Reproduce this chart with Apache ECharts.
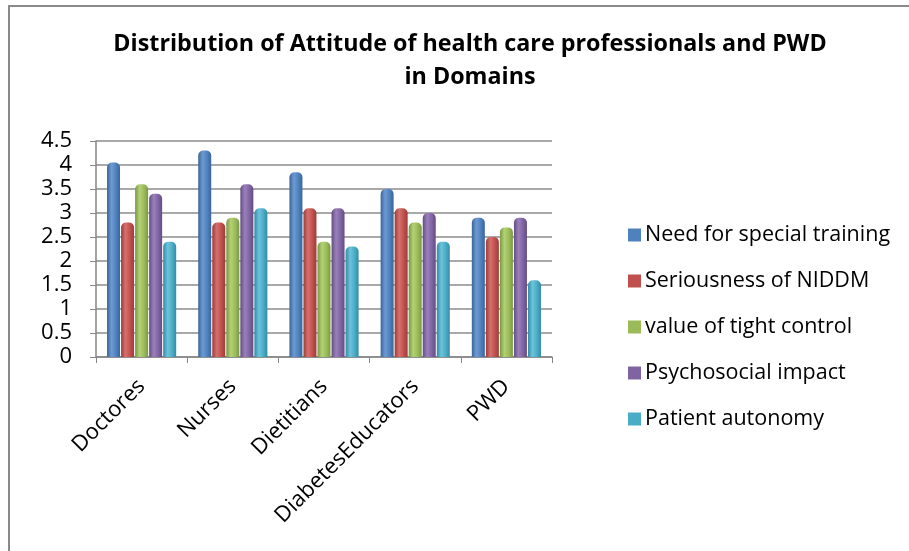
<!DOCTYPE html>
<html>
<head>
<meta charset="utf-8">
<script src="https://cdn.jsdelivr.net/npm/echarts@6/dist/echarts.min.js"></script>
<style>
  html, body { margin: 0; padding: 0; background: #fff; }
  #main { width: 909px; height: 551px; }
</style>
</head>
<body>
<div id="main"></div>
<script>
// data
const categories = ['Doctores', 'Nurses', 'Dietitians', 'DiabetesEducators', 'PWD']
const seriesNames = [
  'Need for special training',
  'Seriousness of NIDDM',
  'value of tight control',
  'Psychosocial impact',
  'Patient autonomy'
]
const needTraining = [4.05, 4.3, 3.85, 3.5, 2.9]
const seriousness = [2.8, 2.8, 3.1, 3.1, 2.5]
const tightControl = [3.6, 2.9, 2.4, 2.8, 2.7]
const psychosocial = [3.4, 3.6, 3.1, 3.0, 2.9]
const autonomy = [2.4, 3.1, 2.3, 2.4, 1.6]
const seriesData = [needTraining, seriousness, tightControl, psychosocial, autonomy]

const colors = ['#4F81BD', '#C0504D', '#9BBB59', '#8064A2', '#4BACC6']
const darks = ['#3A6597', '#9B3D3A', '#7A9844', '#634D82', '#338BA3']
const lights = ['#6D9AD3', '#D6706D', '#B3D175', '#9A80BB', '#6CC3DB']

// cylinder-ish look
const cyl = (i) => new echarts.graphic.LinearGradient(0, 0, 1, 0, [
  { offset: 0, color: darks[i] },
  { offset: 0.35, color: lights[i] },
  { offset: 0.7, color: colors[i] },
  { offset: 1, color: darks[i] }
])

const font = 'Open Sans'
const chart = echarts.init(document.getElementById('main'))

const option = {
  animation: false,
  color: colors,
  title: {
    text: 'Distribution of Attitude of health care professionals and PWD\nin Domains',
    left: 465,
    top: 23,
    textAlign: 'center',
    textStyle: {
      fontFamily: font,
      fontWeight: 'bold',
      fontSize: 23.3,
      lineHeight: 33,
      color: '#000'
    }
  },
  graphic: [
    {
      type: 'rect',
      shape: { x: 9, y: 6, width: 1000, height: 1000 },
      style: { fill: 'none', stroke: '#8a8a8a', lineWidth: 2 },
      silent: true
    }
  ],
  legend: {
    orient: 'vertical',
    left: 623,
    top: 219,
    itemWidth: 13,
    itemHeight: 13,
    itemGap: 24,
    icon: 'rect',
    textStyle: {
      fontFamily: font,
      fontSize: 21.5,
      lineHeight: 22,
      color: '#000',
      padding: [0, 0, 0, -1]
    }
  },
  grid: {
    left: 96,
    right: 357,
    top: 141,
    bottom: 194
  },
  xAxis: {
    type: 'category',
    data: categories,
    axisLine: { lineStyle: { color: '#868686', width: 1.5 } },
    axisTick: { show: true, length: 6, lineStyle: { color: '#868686' } },
    axisLabel: {
      rotate: 45,
      margin: 26,
      fontFamily: font,
      fontSize: 22,
      color: '#000',
      interval: 0
    },
    splitLine: { show: false }
  },
  yAxis: {
    type: 'value',
    min: 0,
    max: 4.5,
    interval: 0.5,
    axisLine: { show: true, lineStyle: { color: '#868686', width: 1.5 } },
    axisTick: { show: true, length: 6, lineStyle: { color: '#868686' } },
    axisLabel: {
      margin: 24,
      fontFamily: font,
      fontSize: 22,
      color: '#000'
    },
    splitLine: { lineStyle: { color: '#8c8c8c', width: 1.5 } }
  },
  series: seriesNames.map((name, i) => ({
    name: name,
    type: 'bar',
    data: seriesData[i],
    barWidth: 13,
    barGap: '8%',
    itemStyle: {
      color: cyl(i),
      borderRadius: [5, 5, 0, 0]
    }
  }))
}

// legend icon colours should be flat
option.legend.data = seriesNames.map((n, i) => ({ name: n, itemStyle: { color: colors[i] } }))

chart.setOption(option)
</script>
</body>
</html>
